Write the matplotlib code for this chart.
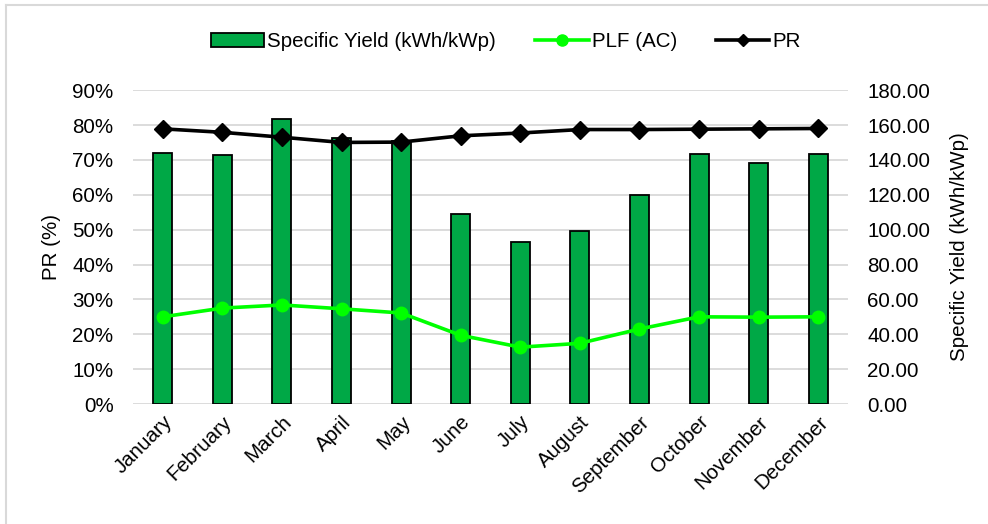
import matplotlib.pyplot as plt
from matplotlib.ticker import FuncFormatter, MultipleLocator
from matplotlib.lines import Line2D

plt.rcParams['font.family'] = ['Liberation Sans', 'DejaVu Sans']
FS = 14.8

months = ['January', 'February', 'March', 'April', 'May', 'June', 'July',
          'August', 'September', 'October', 'November', 'December']
specific_yield = [143.8, 142.8, 163.4, 152.3, 151.0, 108.9, 93.1, 99.5, 119.6, 143.4, 138.3, 143.4]
plf_ac = [25.0, 27.5, 28.4, 27.3, 26.1, 19.7, 16.3, 17.4, 21.5, 25.0, 24.9, 25.0]
pr = [78.9, 77.9, 76.5, 75.0, 75.1, 76.9, 77.7, 78.7, 78.7, 78.8, 78.9, 79.0]

fig = plt.figure(figsize=(9.88, 5.24), dpi=100)
ax = fig.add_axes([0.1346, 0.229, 0.7237, 0.599])
ax2 = ax.twinx()
x = range(len(months))

# bars on the yield scale (right side)
ax.bar(x, specific_yield, width=0.32, color='#00A846', edgecolor='black', linewidth=1.3, zorder=2,
       label='Specific Yield (kWh/kWp)')
ax.set_ylim(0, 180)
ax.set_xlim(-0.5, 11.5)
ax.yaxis.set_major_locator(MultipleLocator(20))
ax.yaxis.set_major_formatter(FuncFormatter(lambda v, p: f'{v:.2f}'))
ax.grid(axis='y', color='#D9D9D9', linewidth=1.3, zorder=0)
ax.set_axisbelow(True)
for s in ax.spines.values():
    s.set_visible(False)
ax.tick_params(axis='both', length=0, labelsize=FS)
ax.tick_params(axis='y', pad=14)
ax.set_xticks(list(x))
ax.set_xticklabels(months, rotation=45, ha='right', rotation_mode='anchor')
ax.tick_params(axis='x', pad=6)

# percentage lines on the left scale
ax2.plot(x, plf_ac, color='#00FF00', linewidth=2.6, marker='o', markersize=9, label='PLF (AC)')
ax2.plot(x, pr, color='black', linewidth=2.6, marker='D', markersize=9, label='PR')
ax2.set_ylim(0, 90)
ax2.yaxis.set_major_locator(MultipleLocator(10))
ax2.yaxis.set_major_formatter(FuncFormatter(lambda v, p: f'{v:.0f}%'))
ax2.tick_params(axis='y', length=0, labelsize=FS, pad=14)
for s in ax2.spines.values():
    s.set_visible(False)

# swap sides: yield axis on the right, percent axis on the left
ax.yaxis.tick_right()
ax.yaxis.set_label_position('right')
ax.set_ylabel('Specific Yield (kWh/kWp)', fontsize=FS, labelpad=14)
ax2.yaxis.tick_left()
ax2.yaxis.set_label_position('left')
ax2.set_ylabel('PR (%)', fontsize=FS, labelpad=8)

# legend
bars_h = plt.Rectangle((0, 0), 1, 1, facecolor='#00A846', edgecolor='black', linewidth=1.3)
plf_h = Line2D([], [], color='#00FF00', linewidth=2.6, marker='o', markersize=8)
pr_h = Line2D([], [], color='black', linewidth=2.6, marker='D', markersize=6)
fig.legend([bars_h, plf_h, pr_h], ['Specific Yield (kWh/kWp)', 'PLF (AC)', 'PR'],
           loc='center', bbox_to_anchor=(0.512, 0.92), ncol=3, frameon=False,
           fontsize=FS, handlelength=2.6, handletextpad=0.15, columnspacing=1.9)

# chart-area border (top and left edges)
fig.add_artist(Line2D([0.006, 1.0], [0.99, 0.99], color='#D9D9D9', linewidth=1.5, transform=fig.transFigure))
fig.add_artist(Line2D([0.006, 0.006], [0.0, 0.99], color='#D9D9D9', linewidth=1.5, transform=fig.transFigure))

fig.savefig('out.png', dpi=100)
